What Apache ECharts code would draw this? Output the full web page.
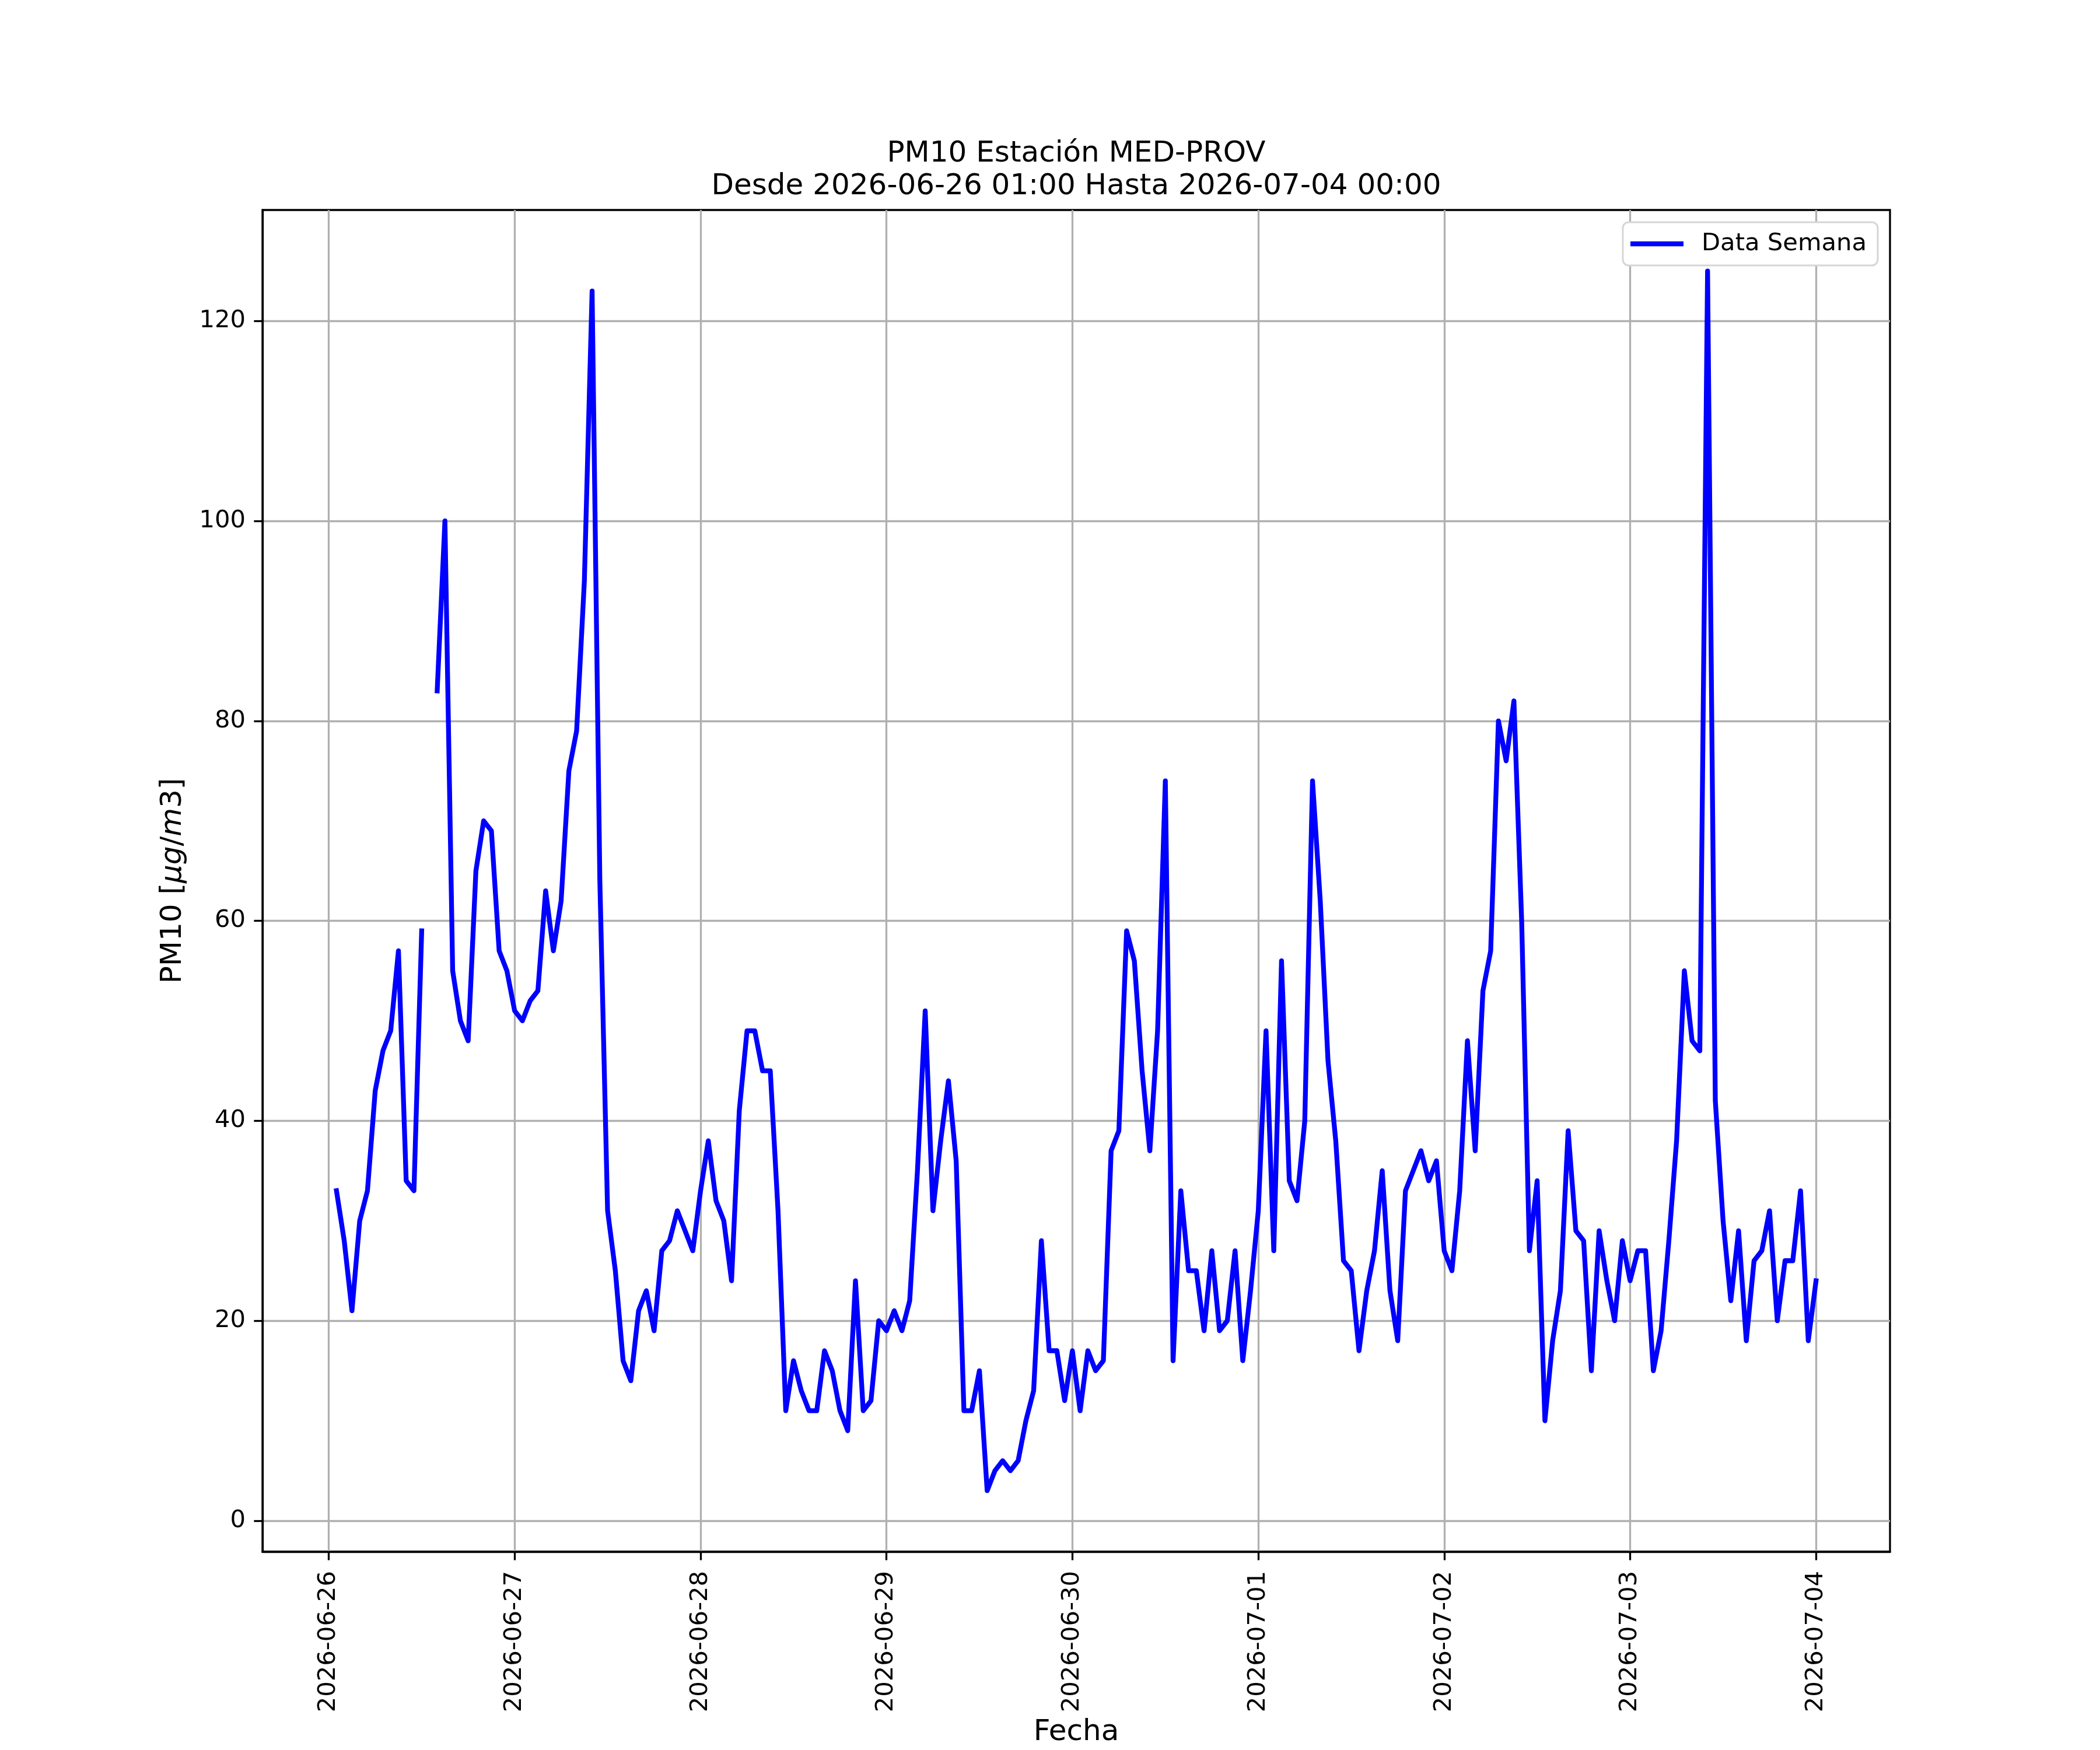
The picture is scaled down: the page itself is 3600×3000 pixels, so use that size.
<!DOCTYPE html>
<html>
<head>
<meta charset="utf-8">
<title>PM10 Estación MED-PROV</title>
<script src="https://cdn.jsdelivr.net/npm/echarts@6/dist/echarts.min.js"></script>
<style>
  html, body { margin: 0; padding: 0; background: #fff; }
  #chart { width: 3600px; height: 3000px; }
</style>
</head>
<body>
<div id="chart"></div>
<script>
const START = '2026-06-26 01:00';
const END = '2026-07-04 00:00';
const SERIES_NAME = 'Data Semana';

// PM10 hourly values, one array per day starting at START (null = missing hour)
const pm10Jun26 = [33, 28, 21, 30, 33, 43, 47, 49, 57, 34, 33, 59, null, 83, 100, 55, 50, 48, 65, 70, 69, 57, 55, 51];
const pm10Jun27 = [50, 52, 53, 63, 57, 62, 75, 79, 94, 123, 64, 31, 25, 16, 14, 21, 23, 19, 27, 28, 31, 29, 27, 33];
const pm10Jun28 = [38, 32, 30, 24, 41, 49, 49, 45, 45, 31, 11, 16, 13, 11, 11, 17, 15, 11, 9, 24, 11, 12, 20, 19];
const pm10Jun29 = [21, 19, 22, 35, 51, 31, 38, 44, 36, 11, 11, 15, 3, 5, 6, 5, 6, 10, 13, 28, 17, 17, 12, 17];
const pm10Jun30 = [11, 17, 15, 16, 37, 39, 59, 56, 45, 37, 49, 74, 16, 33, 25, 25, 19, 27, 19, 20, 27, 16, 23, 31];
const pm10Jul01 = [49, 27, 56, 34, 32, 40, 74, 62, 46, 38, 26, 25, 17, 23, 27, 35, 23, 18, 33, 35, 37, 34, 36, 27];
const pm10Jul02 = [25, 33, 48, 37, 53, 57, 80, 76, 82, 60, 27, 34, 10, 18, 23, 39, 29, 28, 15, 29, 24, 20, 28, 24];
const pm10Jul03 = [27, 27, 15, 19, 28, 38, 55, 48, 47, 125, 42, 30, 22, 29, 18, 26, 27, 31, 20, 26, 26, 33, 18, 24];

const dayTickLabels = ['2026-06-26', '2026-06-27', '2026-06-28', '2026-06-29', '2026-06-30',
  '2026-07-01', '2026-07-02', '2026-07-03', '2026-07-04'];
const yTickValues = [0, 20, 40, 60, 80, 100, 120];

const values = [].concat(pm10Jun26, pm10Jun27, pm10Jun28, pm10Jun29,
  pm10Jun30, pm10Jul01, pm10Jul02, pm10Jul03);

const HOUR = 3600 * 1000;
const t0 = +echarts.time.parse(START);
const t1 = +echarts.time.parse(END);
const seriesData = values.map((v, i) => [t0 + i * HOUR, v]);
const dayTicks = dayTickLabels.map(d => +echarts.time.parse(d));

// matplotlib-like 5% margins
const xPad = (t1 - t0) * 0.05;
const nums = values.filter(v => v != null);
const yMinData = Math.min(...nums), yMaxData = Math.max(...nums);
const yPad = (yMaxData - yMinData) * 0.05;

const LW = 3.3;   // 0.8pt at 300 dpi
const FS = 41.7;  // 10pt
const FS_BIG = 50; // 12pt
const BLUE = '#0000ff';

const chart = echarts.init(document.getElementById('chart'), null, { renderer: 'canvas' });
chart.setOption({
  animation: false,
  backgroundColor: '#fff',
  textStyle: { fontFamily: 'DejaVu Sans', color: '#000' },
  title: {
    text: 'PM10 Estación MED-PROV\nDesde ' + START + ' Hasta ' + END,
    left: 1845,
    top: 236,
    textAlign: 'center',
    padding: 0,
    textStyle: { fontSize: FS_BIG, fontWeight: 'normal', color: '#000', lineHeight: 56, fontFamily: 'DejaVu Sans' }
  },
  legend: {
    data: [{ name: SERIES_NAME, icon: 'rect' }],
    right: 381,
    top: 381,
    orient: 'vertical',
    padding: [12, 19, 12, 13],
    itemWidth: 91,
    itemHeight: 8.3,
    backgroundColor: '#fff',
    borderColor: '#d6d6d6',
    borderWidth: 3,
    borderRadius: 10,
    itemStyle: { color: BLUE, borderWidth: 0 },
    textStyle: { fontSize: FS, color: '#000', padding: [0, 0, 0, 26], lineHeight: 50, fontFamily: 'DejaVu Sans' }
  },
  grid: {
    left: 450, right: 360, top: 360, bottom: 330,
    show: true, borderColor: '#000', borderWidth: LW
  },
  xAxis: {
    type: 'value',
    min: t0 - xPad,
    max: t1 + xPad,
    name: 'Fecha',
    nameLocation: 'middle',
    nameGap: 285,
    nameTextStyle: { fontSize: FS_BIG, color: '#000', fontFamily: 'DejaVu Sans' },
    axisLine: { show: true, onZero: false, lineStyle: { color: '#000', width: LW } },
    axisTick: { show: true, length: 14.6, customValues: dayTicks, lineStyle: { color: '#000', width: LW } },
    axisLabel: {
      customValues: dayTicks,
      rotate: 90,
      margin: 33,
      fontSize: FS,
      color: '#000',
      fontFamily: 'DejaVu Sans',
      formatter: v => echarts.time.format(v, '{yyyy}-{MM}-{dd}', false)
    },
    splitLine: { show: true, lineStyle: { color: '#b0b0b0', width: LW } }
  },
  yAxis: {
    type: 'value',
    min: yMinData - yPad,
    max: yMaxData + yPad,
    name: 'PM10 [{i|μg}/{i|m}3]',
    nameLocation: 'middle',
    nameRotate: 90,
    nameGap: 128,
    nameTextStyle: {
      fontSize: FS_BIG, color: '#000', fontFamily: 'DejaVu Sans',
      rich: { i: { fontSize: FS_BIG, fontStyle: 'italic', fontFamily: 'DejaVu Sans', color: '#000' } }
    },
    axisLine: { show: true, onZero: false, lineStyle: { color: '#000', width: LW } },
    axisTick: { show: true, length: 14.6, customValues: yTickValues, lineStyle: { color: '#000', width: LW } },
    axisLabel: { customValues: yTickValues, margin: 29, fontSize: FS, color: '#000', fontFamily: 'DejaVu Sans' },
    splitLine: { show: true, lineStyle: { color: '#b0b0b0', width: LW } }
  },
  series: [{
    name: SERIES_NAME,
    type: 'line',
    data: seriesData,
    symbol: 'none',
    connectNulls: false,
    lineStyle: { color: BLUE, width: 8.3, join: 'round', cap: 'square' },
    itemStyle: { color: BLUE }
  }]
});
</script>
</body>
</html>
